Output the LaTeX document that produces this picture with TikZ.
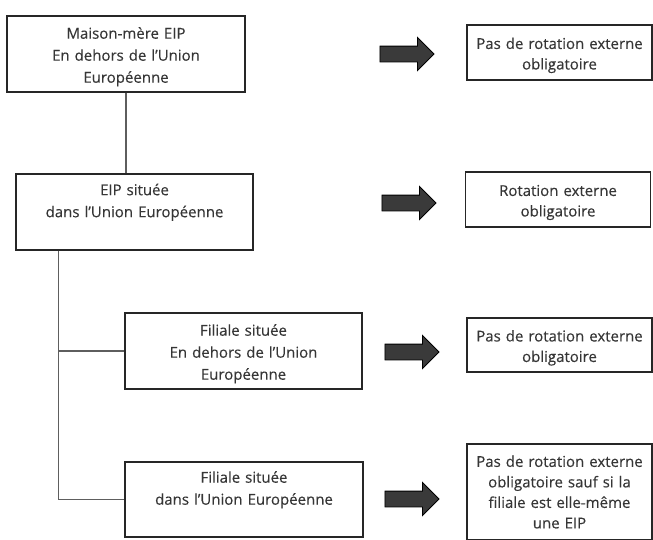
\documentclass[tikz,border=0pt]{standalone}
\usepackage{fontspec}
\setmainfont[FakeBold=0.3]{Open Sans}
\usetikzlibrary{shapes.arrows}
\definecolor{boxtext}{HTML}{363636}
\definecolor{boxline}{HTML}{262626}
\definecolor{linkline}{HTML}{5E5E5E}
\definecolor{arrowfill}{HTML}{3A3A3A}
\newcommand{\toppad}{\rule{0pt}{17pt}}
\tikzstyle{entity}=[rectangle, draw=boxline, line width=1.3pt, text=boxtext,
align=center, inner sep=0pt, minimum width=238pt, minimum height=76pt,
text width=232pt, font=\fontsize{15}{22}\selectfont]
\tikzstyle{outcome}=[rectangle, draw=boxline, line width=1.3pt, text=boxtext,
align=center, inner sep=0pt, minimum width=185pt, minimum height=55pt,
text width=183pt, font=\fontsize{15}{20.5}\selectfont]
\tikzstyle{link}=[draw=linkline, line width=1.2pt]
\tikzstyle{fatarrow}=[single arrow, draw=black, fill=arrowfill, line width=0.9pt,
inner xsep=0pt, inner ysep=7.5pt, minimum height=54pt,
single arrow head extend=8.5pt, single arrow tip angle=90]

\begin{document}
\begin{tikzpicture}[x=1pt,y=-1pt]
	\useasboundingbox (0,0) rectangle (653,539);
	\clip (0,0) rectangle (653,539);

	% structure du groupe
	\node[entity] (mere) at (126,54) {\toppad Maison-mère EIP\\En dehors de l’Union\\Européenne};
	\node[entity, minimum width=237pt] (eip) at (134.5,212) {\toppad EIP située\\dans l’Union Européenne\\\strut};
	\node[entity, minimum width=237pt] (filext) at (243.5,351) {\toppad Filiale située\\En dehors de l’Union\\Européenne};
	\node[entity, minimum height=75pt] (filint) at (244,499.5) {\toppad Filiale située\\dans l’Union Européenne\\\strut};

	\draw[link] (mere.south) -- (mere.south |- eip.north);
	\draw[link] ([xshift=43pt]eip.south west) |- (filext.west);
	\draw[link] ([xshift=43pt]eip.south west) |- (filint.west);

	% consequences
	\node[fatarrow] (flmere) at (403,54) {};
	\node[fatarrow] (fleip) at (405,203) {};
	\node[fatarrow] (flext) at (408,352) {};
	\node[fatarrow] (flint) at (408,499) {};

	\node[outcome] (resmere) at (559.5,52.5) {\toppad Pas de rotation externe\\obligatoire};
	\node[outcome] (reseip) at (558,199.5) {\toppad Rotation externe\\obligatoire};
	\node[outcome, minimum height=54pt] (resext) at (559.5,345) {\toppad Pas de rotation externe\\obligatoire};
	\node[outcome, minimum height=96pt] (resint) at (559.5,492) {Pas de rotation externe\\obligatoire sauf si la\\filiale est elle-même\\une EIP};
\end{tikzpicture}
\end{document}
